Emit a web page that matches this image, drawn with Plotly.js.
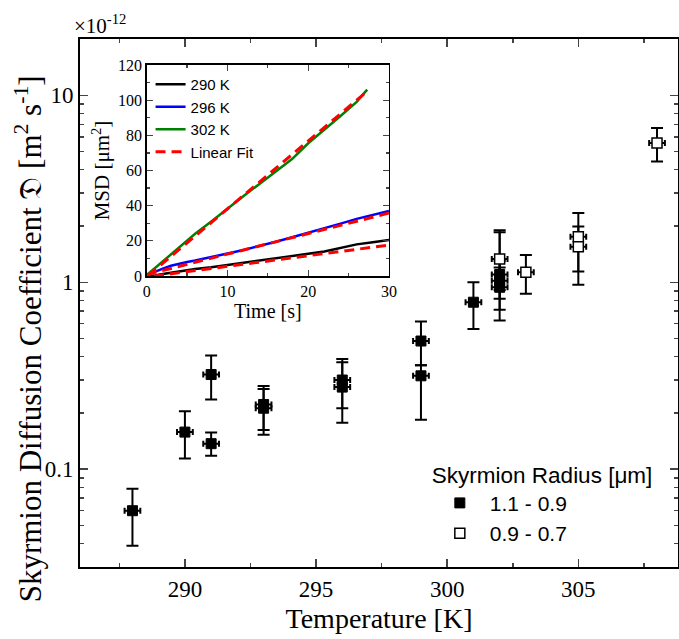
<!DOCTYPE html>
<html>
<head>
<meta charset="utf-8">
<script src="https://cdn.plot.ly/plotly-3.0.1.min.js"></script>
<style>html,body{margin:0;padding:0;background:#fff;}</style>
</head>
<body>
<div id="chart" style="width:679px;height:639px;"></div>
<script>
// ---- Main chart data: Skyrmion radius 1.1 - 0.9 um (filled squares)
const tempBig = [288, 290, 291, 291, 293, 293, 296, 296, 299, 299, 301, 302, 302, 302];
const diffBig = [0.060, 0.158, 0.321, 0.137, 0.222, 0.212, 0.300, 0.275, 0.485, 0.316, 0.782, 1.10, 1.02, 0.94];
const diffBigHi = [0.0786, 0.204, 0.406, 0.157, 0.279, 0.269, 0.389, 0.373, 0.617, 0.36, 1.00, 1.85, 1.30, 1.20];
const diffBigLo = [0.039, 0.114, 0.236, 0.118, 0.162, 0.153, 0.212, 0.177, 0.36, 0.184, 0.563, 0.815, 0.712, 0.624];

// ---- Skyrmion radius 0.9 - 0.7 um (open squares)
const tempSmall = [302, 303, 305, 305, 308];
const diffSmall = [1.33, 1.13, 1.75, 1.55, 5.56];
const diffSmallHi = [1.90, 1.40, 2.35, 1.99, 6.69];
const diffSmallLo = [0.91, 0.867, 1.14, 0.97, 4.42];
const tempErr = 0.3;

// ---- Inset: MSD vs time
const timeS = [0, 1, 2, 3, 4, 5, 6, 8, 10, 12, 14, 16, 18, 20, 22, 24, 26, 28, 30];
const msd290 = [0, 0.3, 1.2, 2.0, 2.7, 3.4, 4.0, 5.0, 6.2, 7.5, 8.8, 10.0, 11.3, 12.6, 14.0, 16.0, 18.0, 19.2, 20.5];
const msd296 = [0.5, 2.5, 4.2, 5.8, 7.0, 8.0, 8.8, 10.6, 12.8, 14.8, 17.0, 19.5, 22.0, 24.5, 27.0, 29.8, 32.5, 34.8, 37.0];
const time302 = [0, 1, 2, 3, 4, 5, 6, 8, 10, 12, 14, 16, 18, 20, 22, 24, 26, 27, 27.3];
const msd302 = [0.5, 4.5, 8.5, 12.5, 16.5, 20.5, 24.0, 31.0, 38.5, 45.5, 52.5, 59.5, 66.5, 75.5, 83.0, 91.0, 99.0, 104.0, 106.0];
const fitTime290 = [0.9, 30];  const fit290 = [0, 17.6];
const fitTime296 = [0, 30];    const fit296 = [0.8, 35.8];
const fitTime302 = [0.2, 27.3]; const fit302 = [0.3, 105];

// ---- Labels and tick labels
const seriesLabels = ['1.1 - 0.9', '0.9 - 0.7'];
const insetLabels = ['290 K', '296 K', '302 K', 'Linear Fit'];
const xTickVals = [290, 295, 300, 305];
const xTickText = ['290', '295', '300', '305'];
const yTickVals = [0.1, 1, 10];
const yTickText = ['0.1', '1', '10'];
const insetXTickVals = [0, 10, 20, 30];
const insetXTickText = ['0', '10', '20', '30'];
const insetYTickVals = [0, 20, 40, 60, 80, 100, 120];
const insetYTickText = ['0', '20', '40', '60', '80', '100', '120'];

const diff = (a, b) => a.map((v, i) => v - b[i]);
const serifSpan = arr => arr.map(t => '<span style="font-family:Liberation Serif">' + t + '</span>');

const serif = 'Liberation Serif';
const sans = 'Liberation Sans';

const errX = {type: 'constant', value: tempErr, color: '#000', thickness: 2, width: 3};
const traces = [
  {
    x: tempBig, y: diffBig, type: 'scatter', mode: 'markers', name: seriesLabels[0],
    marker: {symbol: 'square', size: 10, color: '#000', line: {color: '#000', width: 1}},
    error_y: {type: 'data', symmetric: false, array: diff(diffBigHi, diffBig), arrayminus: diff(diffBig, diffBigLo), color: '#000', thickness: 2, width: 6},
    error_x: errX, xaxis: 'x', yaxis: 'y', legend: 'legend'
  },
  {
    x: tempSmall, y: diffSmall, type: 'scatter', mode: 'markers', name: seriesLabels[1],
    marker: {symbol: 'square', size: 10, color: '#fff', line: {color: '#000', width: 1.5}},
    error_y: {type: 'data', symmetric: false, array: diff(diffSmallHi, diffSmall), arrayminus: diff(diffSmall, diffSmallLo), color: '#000', thickness: 2, width: 6},
    error_x: errX, xaxis: 'x', yaxis: 'y', legend: 'legend'
  },
  {x: timeS, y: msd290, type: 'scatter', mode: 'lines', name: insetLabels[0], line: {color: '#000', width: 2.5}, xaxis: 'x2', yaxis: 'y2', legend: 'legend2'},
  {x: timeS, y: msd296, type: 'scatter', mode: 'lines', name: insetLabels[1], line: {color: '#0000ff', width: 2.5}, xaxis: 'x2', yaxis: 'y2', legend: 'legend2'},
  {x: time302, y: msd302, type: 'scatter', mode: 'lines', name: insetLabels[2], line: {color: '#008000', width: 2.5}, xaxis: 'x2', yaxis: 'y2', legend: 'legend2'},
  {x: fitTime290, y: fit290, type: 'scatter', mode: 'lines', name: insetLabels[3], line: {color: '#ff0000', width: 3, dash: '10px,6px'}, xaxis: 'x2', yaxis: 'y2', legend: 'legend2'},
  {x: fitTime296, y: fit296, type: 'scatter', mode: 'lines', name: insetLabels[3], showlegend: false, line: {color: '#ff0000', width: 3, dash: '10px,6px'}, xaxis: 'x2', yaxis: 'y2', legend: 'legend2'},
  {x: fitTime302, y: fit302, type: 'scatter', mode: 'lines', name: insetLabels[3], showlegend: false, line: {color: '#ff0000', width: 3, dash: '10px,6px'}, xaxis: 'x2', yaxis: 'y2', legend: 'legend2'}
];

const minorY = [];
[0.01, 0.1, 1, 10].forEach(d => { for (let k = 2; k <= 9; k++) minorY.push(+(k * d).toPrecision(3)); });

const layout = {
  width: 679, height: 639,
  margin: {l: 80, r: 1, t: 39, b: 72},
  paper_bgcolor: '#fff', plot_bgcolor: '#fff',
  font: {family: serif, color: '#000'},
  showlegend: true,
  xaxis: {
    range: [286, 308.8], tickmode: 'array', tickvals: xTickVals, ticktext: serifSpan(xTickText),
    ticks: 'inside', ticklen: 8, tickwidth: 1.5,
    showline: true, linewidth: 2, linecolor: '#000', mirror: 'ticks', showgrid: false, zeroline: false,
    tickfont: {family: serif, size: 23, color: '#000'}, ticklabelstandoff: 0,
    minor: {tickmode: 'linear', tick0: 287.5, dtick: 2.5, ticks: 'inside', ticklen: 4, tickwidth: 1.5, showgrid: false},
    title: {text: 'Temperature [K]', font: {family: serif, size: 28, color: '#000'}, standoff: 8}
  },
  yaxis: {
    type: 'log', range: [Math.log10(0.03), Math.log10(20)], tickmode: 'array', tickvals: yTickVals, ticktext: serifSpan(yTickText),
    ticks: 'inside', ticklen: 8, tickwidth: 1.5, showline: true, linewidth: 2, linecolor: '#000', mirror: 'ticks',
    showgrid: false, zeroline: false, tickfont: {family: serif, size: 23, color: '#000'}, ticklabelstandoff: 0,
    minor: {tickmode: 'array', tickvals: minorY, ticks: 'inside', ticklen: 4, tickwidth: 1.5, showgrid: false}
  },
  xaxis2: {
    domain: [0.1115, 0.5167], anchor: 'y2', range: [0, 30], tickmode: 'array', tickvals: insetXTickVals, ticktext: serifSpan(insetXTickText),
    ticks: 'inside', ticklen: 6, tickwidth: 1.2,
    showline: true, linewidth: 1.5, linecolor: '#000', mirror: 'ticks', showgrid: false, zeroline: false,
    tickfont: {family: serif, size: 16, color: '#000'},
    minor: {tickmode: 'linear', tick0: 0, dtick: 5, ticks: 'inside', ticklen: 3, tickwidth: 1.2, showgrid: false},
    title: {text: 'Time [s]', font: {family: serif, size: 20, color: '#000'}, standoff: 2}
  },
  yaxis2: {
    domain: [0.5511, 0.9508], anchor: 'x2', range: [0, 120], tickmode: 'array', tickvals: insetYTickVals, ticktext: serifSpan(insetYTickText),
    ticks: 'inside', ticklen: 6, tickwidth: 1.2,
    showline: true, linewidth: 1.5, linecolor: '#000', mirror: 'ticks', showgrid: false, zeroline: false,
    tickfont: {family: serif, size: 16, color: '#000'},
    minor: {tickmode: 'linear', tick0: 0, dtick: 10, ticks: 'inside', ticklen: 3, tickwidth: 1.2, showgrid: false},
    title: {text: 'MSD [μm<sup>2</sup>]', font: {family: serif, size: 21, color: '#000'}, standoff: 2}
  },
  legend: {
    x: 0.585, y: 0.215, xanchor: 'left', yanchor: 'top', bgcolor: 'rgba(0,0,0,0)',
    font: {family: sans, size: 21, color: '#000'}, title: {text: 'Skyrmion Radius [μm]', font: {family: sans, size: 22.5, color: '#000'}},
    tracegroupgap: 0, itemsizing: 'trace', itemwidth: 50
  },
  legend2: {
    x: 0.118, y: 0.945, xanchor: 'left', yanchor: 'top', bgcolor: 'rgba(0,0,0,0)',
    font: {family: sans, size: 15, color: '#000'}, tracegroupgap: 0
  },
  annotations: [
    {text: '×10<sup>-12</sup>', xref: 'paper', yref: 'paper', x: -0.013, y: 1.027, xanchor: 'left', yanchor: 'middle',
     showarrow: false, font: {family: serif, size: 21, color: '#000'}},
    {text: 'Skyrmion Diffusion Coefficient 𝔇 [m<sup>2</sup> s<sup>-1</sup>]', xref: 'paper', yref: 'paper',
     x: -0.087, y: 0.433, xanchor: 'center', yanchor: 'middle', textangle: -90,
     showarrow: false, font: {family: serif, size: 31, color: '#000'}}
  ]
};

Plotly.newPlot('chart', traces, layout, {displayModeBar: false, staticPlot: true});
</script>
</body>
</html>
